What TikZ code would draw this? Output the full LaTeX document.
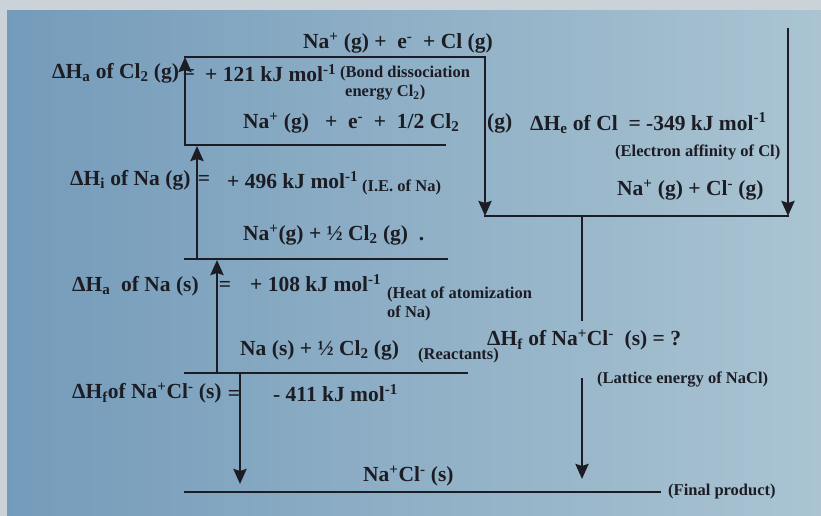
\documentclass[tikz,border=0pt]{standalone}
\usepackage{fontspec}
\setmainfont{Liberation Serif}
\usetikzlibrary{arrows.meta}
\definecolor{ink}{HTML}{1C1D24}
\definecolor{bgL}{HTML}{749BBA}
\definecolor{bgR}{HTML}{AAC4D2}
\definecolor{paper}{HTML}{CBD2D8}
\begin{document}
\begin{tikzpicture}[x=1pt,y=-1pt,
  lbl/.style={anchor=west,inner sep=0pt,text=ink,font=\fontsize{21.5}{23}\selectfont\bfseries},
  note/.style={anchor=west,inner sep=0pt,text=ink,font=\fontsize{16.5}{18}\selectfont\bfseries},
  level/.style={draw=ink,line width=2.8pt,line cap=rect},
  arr/.style={draw=ink,line width=2.8pt,-{Stealth[width=13pt,length=15pt,inset=2pt]}},
]
\useasboundingbox (0,0) rectangle (821,516);
\shade[left color=bgL,right color=bgR] (0,0) rectangle (821,516);
\fill[paper] (0,0) rectangle (821,10);
\fill[paper] (0,0) rectangle (7,516);

% texts
\node[lbl] (n1) at (303,43) {Na\textsuperscript{+} (g) +\ \ e\textsuperscript{-}\ \ + Cl (g)};
\node[lbl] (n2) at (52,73) {ΔH\textsubscript{a} of Cl\textsubscript{2} (g)};
\node[lbl,anchor=center] (n2e) at (189,74) {=};
\node[lbl] (n3) at (205,73) {+ 121 kJ mol\textsuperscript{-1}};
\node[note] (n4) at (340,74) {(Bond dissociation};
\node[note] (n4b) at (345,93) {energy Cl\textsubscript{2})};
\node[lbl] (n5) at (243,123) {Na\textsuperscript{+} (g)\ \ \ +\ \ e\textsuperscript{-}\ \ +\ \ 1/2 Cl\textsubscript{2}};
\node[lbl] (n5g) at (487,123) {(g)};
\node[lbl] (n6) at (530,123) {ΔH\textsubscript{e} of Cl\ \ =\ -349 kJ mol\textsuperscript{-1}};
\node[note] (n7) at (615,152) {(Electron affinity of Cl)};
\node[lbl] (n8) at (617,190) {Na\textsuperscript{+} (g) + Cl\textsuperscript{-} (g)};
\node[lbl] (n9) at (70,180) {ΔH\textsubscript{i} of Na (g)};
\node[lbl,anchor=center] (n9e) at (204,180) {=};
\node[lbl] (n10) at (227,180) {+ 496 kJ mol\textsuperscript{-1}};
\node[note] (n11) at (362,187) {(I.E. of Na)};
\node[lbl] (n12) at (243,235) {Na\textsuperscript{+}(g) + ½ Cl\textsubscript{2}\ (g)\ \ .};
\node[lbl] (n13) at (72,286) {ΔH\textsubscript{a}\ \ of Na (s)};
\node[lbl,anchor=center] (n13e) at (225,286) {=};
\node[lbl] (n14) at (250,283) {+ 108 kJ mol\textsuperscript{-1}};
\node[note] (n15) at (387,294) {(Heat of atomization};
\node[note] (n15b) at (387,313) {of Na)};
\node[lbl] (n16) at (240,350) {Na (s) + ½ Cl\textsubscript{2}\ (g)};
\node[note] (n17) at (418,356) {(Reactants)};
\node[lbl] (n18) at (487,340) {ΔH\textsubscript{f} of Na\textsuperscript{+}Cl\textsuperscript{-}\ \ (s)\ = ?};
\node[note] (n19) at (597,380) {(Lattice energy of NaCl)};
\node[lbl] (n20) at (72,393) {ΔH\textsubscript{f}of Na\textsuperscript{+}Cl\textsuperscript{-} (s)};
\node[lbl,anchor=center] (n20e) at (234,395) {=};
\node[lbl] (n21) at (273,393) {- 411 kJ mol\textsuperscript{-1}};
\node[lbl] (n22) at (363,476) {Na\textsuperscript{+}Cl\textsuperscript{-} (s)};
\node[note] (n23) at (668,492) {(Final product)};

% coordinates
\coordinate (t1) at (185,57);
\coordinate (t2) at (485,57);
\coordinate (e1) at (485,216);
\coordinate (e2) at (788,216);
\coordinate (e0) at (788,28);
\coordinate (l2a) at (185,145);
\coordinate (l2b) at (445,145);
\coordinate (l3a) at (185,259);
\coordinate (l3b) at (447,259);
\coordinate (l4a) at (185,373);
\coordinate (l4b) at (467,373);
\coordinate (l5a) at (185,492);
\coordinate (l5b) at (660,492);
\coordinate (ie0) at (197,259);
\coordinate (ie1) at (197,146);
\coordinate (at0) at (217,373);
\coordinate (at1) at (217,260);
\coordinate (hf0) at (240,373);
\coordinate (hf1) at (240,484);
\coordinate (lat0) at (582,216);
\coordinate (lat1) at (582,320);
\coordinate (lat2) at (582,378);
\coordinate (lat3) at (582,479);

% levels
\draw[level] (t1) -- (t2);
\draw[level] (l2a) -- (l2b);
\draw[level] (l3a) -- (l3b);
\draw[level] (l4a) -- (l4b);
\draw[level] (l5a) -- (l5b);
\draw[level] (e1) -- (e2);
\draw[level] (lat0) -- (lat1);

% arrows
\draw[arr] (l2a) -- (t1);
\draw[arr] (t2) -- (e1);
\draw[arr] (e0) -- (e2);
\draw[arr] (ie0) -- (ie1);
\draw[arr] (at0) -- (at1);
\draw[arr] (hf0) -- (hf1);
\draw[arr] (lat2) -- (lat3);
\end{tikzpicture}
\end{document}
